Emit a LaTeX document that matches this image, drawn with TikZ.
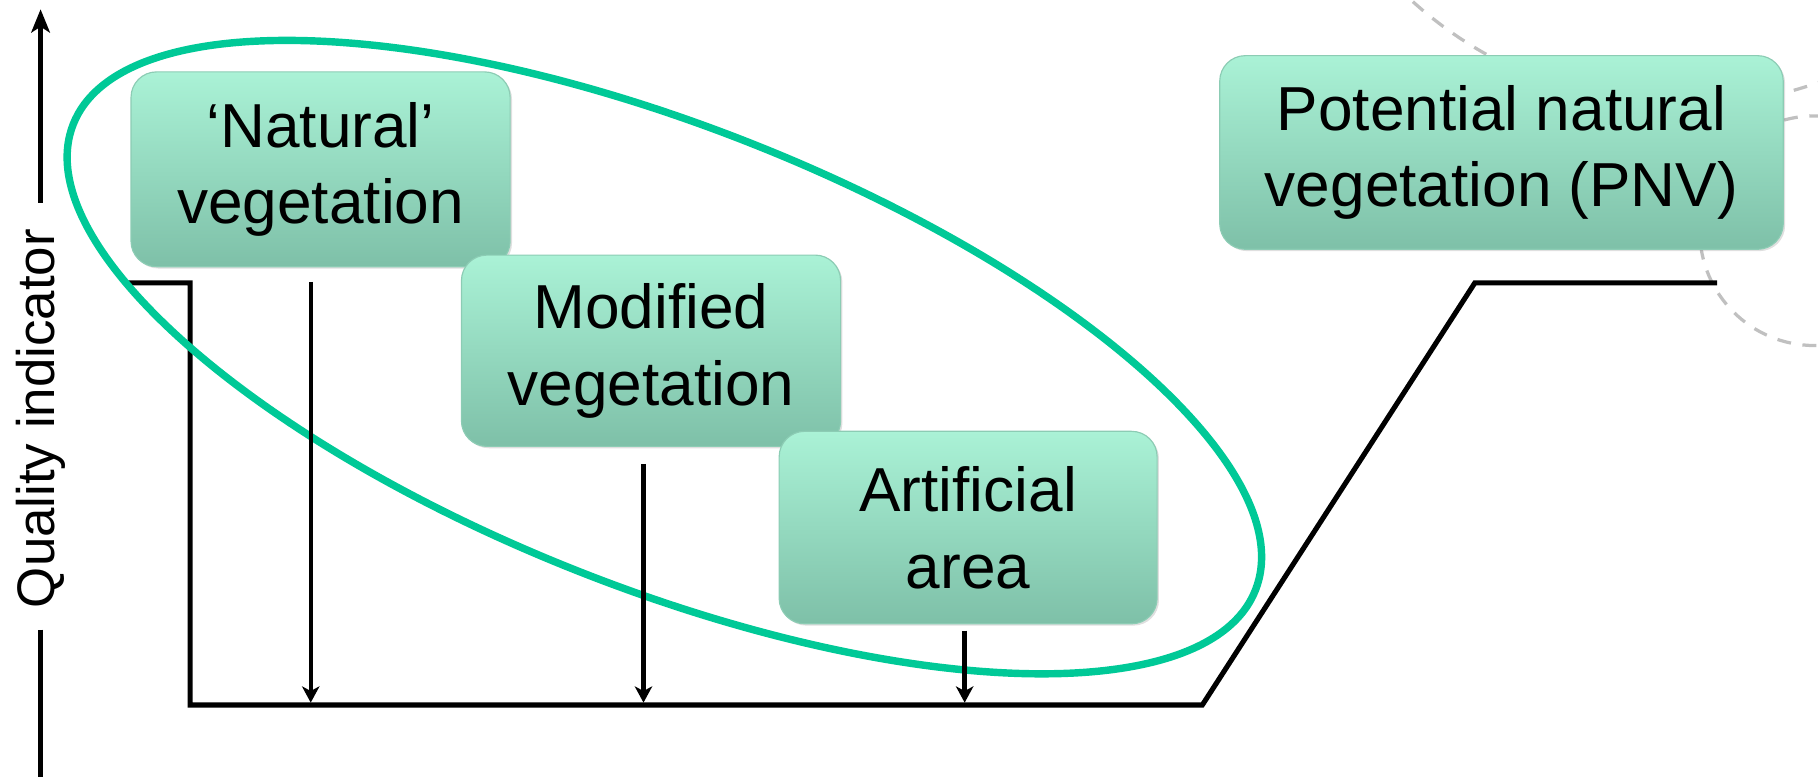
\documentclass[tikz,border=0pt]{standalone}
\usepackage{fontspec}
\setmainfont{Liberation Sans}
\usetikzlibrary{arrows.meta,shadows}

\definecolor{ringgreen}{RGB}{0,201,151}
\definecolor{boxtop}{RGB}{170,242,214}
\definecolor{boxbot}{RGB}{126,192,168}
\definecolor{boxedge}{RGB}{140,204,180}
\definecolor{dashgray}{RGB}{192,192,192}

\tikzset{
  vegbox/.style={
    rounded corners=11pt, top color=boxtop, bottom color=boxbot,
    draw=boxedge, line width=0.5pt, align=center, inner sep=0pt,
    font=\fontsize{26.8pt}{33pt}\selectfont,
    drop shadow={opacity=0.25, shadow xshift=0.8pt, shadow yshift=-0.8pt}},
  axisline/.style={line width=1.9pt},
  stepline/.style={line width=2.2pt},
  droparrow/.style={line width=1.9pt, -{Stealth[length=7pt,width=7.5pt,inset=2pt]}},
  ring/.style={draw=ringgreen, line width=3.2pt},
  decocircle/.style={draw=dashgray, line width=1.4pt, dash pattern=on 6pt off 5pt}
}

\begin{document}
\begin{tikzpicture}[x=0.5pt, y=-0.5pt]
  \useasboundingbox (0,0) rectangle (1568,670);

  % light dashed circles in the upper right corner
  \begin{scope}
    \clip (0,0) rectangle (1568,670);
    \draw[decocircle] (1452,-258) circle[radius=349];
    \draw[decocircle] (1565,199) circle[radius=99];
  \end{scope}

  % vertical quality axis
  \node[rotate=90, font=\fontsize{22.8pt}{26pt}\selectfont] (qlab) at (35,361) {Quality indicator};
  \coordinate (axtop) at (35,8);
  \coordinate (axup) at (35,175);
  \coordinate (axlow) at (35,543);
  \coordinate (axbot) at (35,670);
  \draw[axisline, -{Stealth[length=10pt,width=8pt,inset=2.5pt]}] (axup) -- (axtop);
  \draw[axisline] (axlow) -- (axbot);

  % step profile of the quality indicator
  \coordinate (s0) at (110,244);
  \coordinate (s1) at (164,244);
  \coordinate (s2) at (164,608);
  \coordinate (s3) at (1037,608);
  \coordinate (s4) at (1272,244);
  \coordinate (s5) at (1481,244);
  \draw[stepline] (s0) -- (s1) -- (s2) -- (s3) -- (s4) -- (s5);

  % ring round the actual land cover classes
  \draw[ring, rotate around={-21.5:(573,308)}] (573,308) ellipse[x radius=548, y radius=199];

  % drops from each class to the baseline
  \coordinate (d1a) at (268,243);
  \coordinate (d1b) at (268,606);
  \coordinate (d2a) at (555,400);
  \coordinate (d2b) at (555,606);
  \coordinate (d3a) at (832,544);
  \coordinate (d3b) at (832,606);
  \draw[droparrow] (d1a) -- (d1b);
  \draw[droparrow] (d2a) -- (d2b);
  \draw[droparrow] (d3a) -- (d3b);

  % vegetation classes
  \node[vegbox, minimum width=163.5pt, minimum height=84pt] (nat) at (276.5,146)
    {‘Natural’\\vegetation};
  \node[vegbox, minimum width=163.5pt, minimum height=82.5pt] (mod) at (561.5,302.5)
    {Modified\\vegetation};
  \node[vegbox, minimum width=163pt, minimum height=83pt] (art) at (835,455)
    {Artificial\\area};
  \node[vegbox, minimum width=243pt, minimum height=83.5pt] (pnv) at (1295,131.5)
    {Potential natural\\vegetation (PNV)};
\end{tikzpicture}
\end{document}
